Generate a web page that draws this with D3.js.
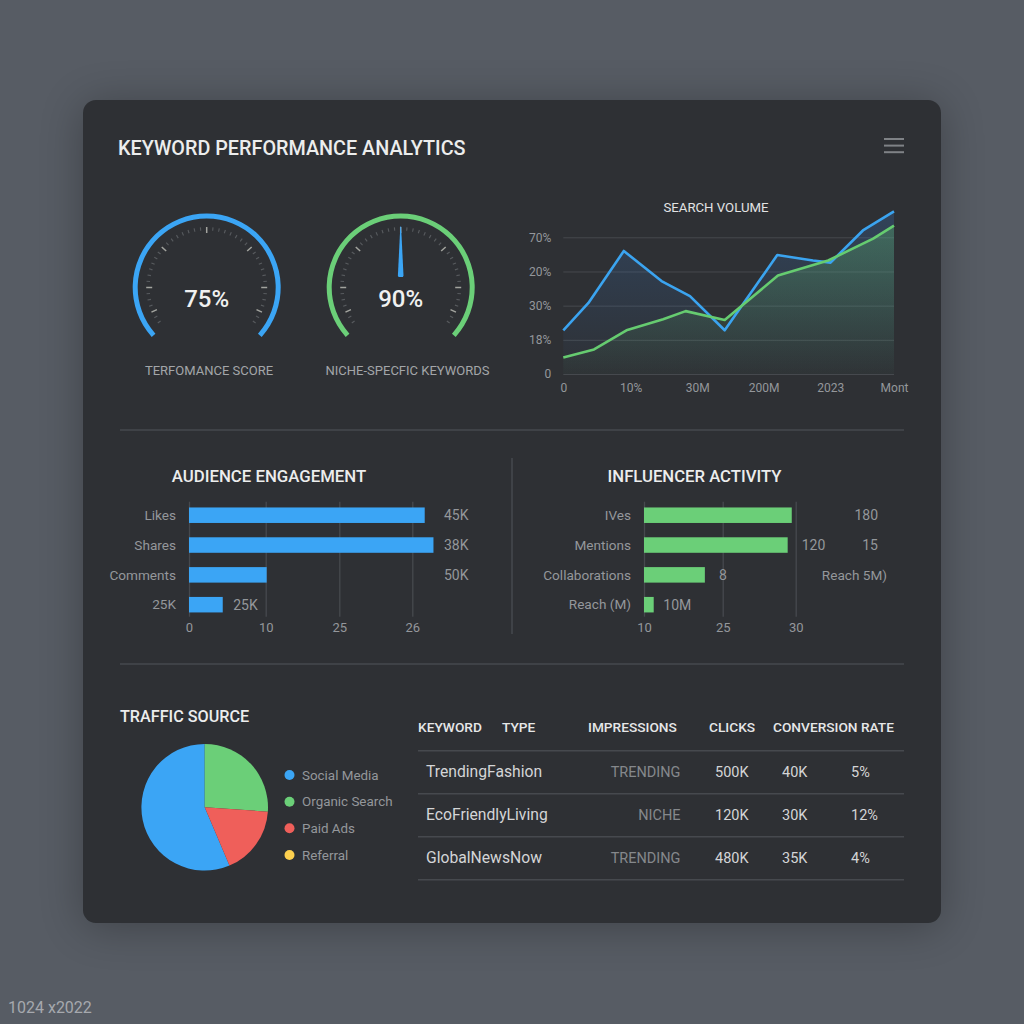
<!DOCTYPE html>
<html>
<head>
<meta charset="utf-8">
<style>
  html, body { margin: 0; background: #575c64; }
  svg { display: block; font-family: Roboto, sans-serif; }
  .axis .domain { display: none; }
</style>
<script src="https://cdn.jsdelivr.net/npm/d3@7"></script>
</head>
<body>
<svg id="chart" width="1024" height="1024"></svg>
<script>
// Gauges
const gaugeLabels = ["TERFOMANCE SCORE", "NICHE-SPECFIC KEYWORDS"]
const gaugeValues = ["75%", "90%"]

// Search volume (x and y are in plot units, the tick labels are as printed)
const volumeXTicks = [0, 20.4, 40.5, 60.6, 80.7, 100]
const volumeXLabels = ["0", "10%", "30M", "200M", "2023", "Mont"]
const volumeYTicks = [0, 25, 50, 75, 100]
const volumeYLabels = ["0", "18%", "30%", "20%", "70%"]
const blueX = [0, 7.6, 18.3, 29.7, 38.3, 48.8, 64.7, 75.5, 80.8, 90.6, 100]
const blueY = [32, 52, 90, 68, 57, 32, 87, 83, 81.5, 105, 119]
const greenX = [0, 9.3, 19.1, 30.2, 37, 48.8, 64.9, 80.1, 93.7, 100]
const greenY = [12, 18, 32, 40, 46, 39.5, 72, 83, 99, 108.5]

// Audience engagement
const audienceCategories = ["Likes", "Shares", "Comments", "25K"]
const audienceBars = [26.17, 26.29, 10.2, 4.4]
const audienceTicks = [0, 10, 25, 26]
const audienceValues = ["45K", "38K", "50K", "25K"]

// Influencer activity
const influencerCategories = ["IVes", "Mentions", "Collaborations", "Reach (M)"]
const influencerBars = [29.73, 29.45, 21.6, 11.85]
const influencerTicks = [10, 25, 30]

// Traffic source
const trafficSources = ["Social Media", "Organic Search", "Paid Ads", "Referral"]
const trafficShares = [56.4, 26.1, 17.5, 0]
const trafficColors = ["#3ba5f5", "#6bcf78", "#ef5f5a", "#fdd04f"]

// Keyword table
const tableHeaders = ["KEYWORD", "TYPE", "IMPRESSIONS", "CLICKS", "CONVERSION RATE"]
const tableKeywords = ["TrendingFashion", "EcoFriendlyLiving", "GlobalNewsNow"]
const tableTypes = ["TRENDING", "NICHE", "TRENDING"]
const tableImpressions = ["500K", "120K", "480K"]
const tableClicks = ["40K", "30K", "35K"]
const tableRates = ["5%", "12%", "4%"]

const BLUE = "#3ba5f5"
const GREEN = "#6bcf78"
const CARD = "#2e3034"
const GRID = "#46494e"
const MUTED = "#94979b"

const svg = d3.select("#chart")
const defs = svg.append("defs")

function addGradient(id, stops) {
  const g = defs.append("linearGradient").attr("id", id)
    .attr("x1", 0).attr("y1", 0).attr("x2", 0).attr("y2", 1)
  stops.forEach(s => g.append("stop").attr("offset", s[0]).attr("stop-color", s[1]).attr("stop-opacity", s[2]))
}
addGradient("blueFill", [[0, "#3b7fd0", 0.24], [1, "#3b7fd0", 0.01]])
addGradient("greenFill", [[0, "#63c56e", 0.3], [1, "#63c56e", 0.02]])

defs.append("filter").attr("id", "soft").attr("x", "-20%").attr("y", "-20%")
  .attr("width", "140%").attr("height", "140%")
  .append("feGaussianBlur").attr("stdDeviation", 22)

function addText(parent, x, y, str, size, color, weight, anchor) {
  return parent.append("text")
    .attr("x", x).attr("y", y).attr("dy", "0.35em")
    .attr("font-size", size).attr("fill", color)
    .attr("font-weight", weight || 400)
    .attr("text-anchor", anchor || "start")
    .text(str)
}

function addRule(x1, y1, x2, y2) {
  svg.append("line").attr("x1", x1).attr("y1", y1).attr("x2", x2).attr("y2", y2)
    .attr("stroke", GRID).attr("stroke-width", 1.5)
}

// Page and card
svg.append("rect").attr("width", 1024).attr("height", 1024).attr("fill", "#575c64")
svg.append("rect").attr("x", 83).attr("y", 104).attr("width", 858).attr("height", 823).attr("rx", 14)
  .attr("fill", "#000").attr("opacity", 0.28).attr("filter", "url(#soft)")
svg.append("rect").attr("x", 83).attr("y", 100).attr("width", 858).attr("height", 823).attr("rx", 13)
  .attr("fill", CARD)

addText(svg, 118, 148, "KEYWORD PERFORMANCE ANALYTICS", 19.8, "#eceded", 500)
addText(svg, 8, 1007, "1024 x2022", 16, "#a6a9ae")

d3.range(3).forEach(i => {
  svg.append("rect").attr("x", 884).attr("y", 138 + i * 6.6).attr("width", 20).attr("height", 2).attr("fill", "#7f8286")
})

addRule(120, 430, 904, 430)
addRule(120, 664, 904, 664)
addRule(512, 458, 512, 634)

// Gauges
const gaugeAngle = d3.scaleLinear().domain([-1, 1]).range([-132, 132])
const toRad = d => d * Math.PI / 180

function drawGauge(cx, color, value, label, labelX, needle) {
  const g = svg.append("g").attr("transform", `translate(${cx},287.5)`)
  g.append("path")
    .attr("d", d3.arc()({
      innerRadius: 69, outerRadius: 74,
      startAngle: toRad(gaugeAngle(-1)), endAngle: toRad(gaugeAngle(1))
    }))
    .attr("fill", color)

  d3.range(-126, 127, 6).forEach(a => {
    const major = [0, 48, 90, 114].includes(Math.abs(a))
    const r0 = major ? 54.5 : 57
    const r1 = 60.5
    g.append("line")
      .attr("x1", r0 * Math.sin(toRad(a))).attr("y1", -r0 * Math.cos(toRad(a)))
      .attr("x2", r1 * Math.sin(toRad(a))).attr("y2", -r1 * Math.cos(toRad(a)))
      .attr("stroke", major ? "#a3a49f" : "#585b5f")
      .attr("stroke-width", major ? 1.5 : 1.1)
  })

  if (needle) {
    g.append("path").attr("d", d3.line()([[-0.4, -61], [0.4, -61], [2.8, -12], [2.2, -10.5], [-2.2, -10.5], [-2.8, -12]]))
      .attr("fill", BLUE)
  }

  addText(g, 0, 10.7, value, 24, "#f0f0f0", 500, "middle")
  addText(svg, labelX, 370, label, 13, "#a3a6a9", 400, "middle")
}
drawGauge(206.7, BLUE, gaugeValues[0], gaugeLabels[0], 209, false)
drawGauge(400.7, GREEN, gaugeValues[1], gaugeLabels[1], 407.5, true)

// Search volume chart
addText(svg, 716, 207, "SEARCH VOLUME", 13.2, "#e2e3e4", 400, "middle")

const volX = d3.scaleLinear().domain([0, 100]).range([563.3, 894])
const volY = d3.scaleLinear().domain([0, 100]).range([374, 237.3])

const volYAxis = svg.append("g").attr("class", "axis").attr("transform", "translate(563.3,0)")
  .call(d3.axisLeft(volY).tickValues(volumeYTicks).tickSize(-330.7).tickPadding(12)
    .tickFormat((d, i) => volumeYLabels[i]))
volYAxis.selectAll("line").attr("stroke", GRID)
volYAxis.selectAll("text").attr("fill", MUTED).attr("font-size", 12).attr("font-family", "Roboto")

const volXAxis = svg.append("g").attr("class", "axis").attr("transform", "translate(0,374)")
  .call(d3.axisBottom(volX).tickValues(volumeXTicks).tickSize(0).tickPadding(9)
    .tickFormat((d, i) => volumeXLabels[i]))
volXAxis.selectAll("text").attr("fill", MUTED).attr("font-size", 12).attr("font-family", "Roboto")

function drawSeries(xs, ys, fill, stroke) {
  const pts = xs.map((x, i) => [x, ys[i]])
  const area = d3.area().x(d => volX(d[0])).y0(volY(0)).y1(d => volY(d[1]))
  const line = d3.line().x(d => volX(d[0])).y(d => volY(d[1]))
  svg.append("path").datum(pts).attr("d", area).attr("fill", fill)
  return () => svg.append("path").datum(pts).attr("d", line)
    .attr("fill", "none").attr("stroke", stroke).attr("stroke-width", 2.6).attr("stroke-linejoin", "round")
}
const drawBlueLine = drawSeries(blueX, blueY, "url(#blueFill)", "#3ba4f0")
const drawGreenLine = drawSeries(greenX, greenY, "url(#greenFill)", "#66cc70")
drawBlueLine()
drawGreenLine()

// Horizontal bar panels
function drawBars(categories, values, ticks, range, color, labelX) {
  const x = d3.scaleLinear().domain(ticks).range(range)
  const y = d3.scaleBand().domain(categories).range([500.3, 619.6]).paddingInner(0.48).paddingOuter(0.24)

  const axis = svg.append("g").attr("class", "axis").attr("transform", "translate(0,616.7)")
    .call(d3.axisBottom(x).tickValues(ticks).tickSize(-115).tickPadding(6).tickFormat(d3.format("d")))
  axis.selectAll("line").attr("stroke", GRID).attr("stroke-width", 1.3)
  axis.selectAll("text").attr("fill", MUTED).attr("font-size", 13).attr("font-family", "Roboto")

  svg.append("g").selectAll("rect").data(values).join("rect")
    .attr("x", x(ticks[0]))
    .attr("y", (d, i) => y(categories[i]))
    .attr("width", d => x(d) - x(ticks[0]))
    .attr("height", y.bandwidth())
    .attr("fill", color)

  categories.forEach(c => addText(svg, labelX, y(c) + y.bandwidth() / 2, c, 13.6, MUTED, 400, "end"))
  return { x, y }
}

addText(svg, 269, 476, "AUDIENCE ENGAGEMENT", 16.8, "#eceded", 500, "middle")
const aud = drawBars(audienceCategories, audienceBars, audienceTicks, [189, 265.7, 339.3, 412.3], BLUE, 176)
audienceValues.forEach((v, i) => {
  const yc = aud.y(audienceCategories[i]) + aud.y.bandwidth() / 2
  if (i < 3) addText(svg, 468.5, yc, v, 14, MUTED, 400, "end")
  else addText(svg, aud.x(audienceBars[i]) + 10.5, yc, v, 14, MUTED)
})

addText(svg, 694.5, 476, "INFLUENCER ACTIVITY", 16.7, "#eceded", 500, "middle")
const inf = drawBars(influencerCategories, influencerBars, influencerTicks, [644, 722.7, 795.7], GREEN, 631)
const rowMid = i => inf.y(influencerCategories[i]) + inf.y.bandwidth() / 2
addText(svg, 878, rowMid(0), "180", 14, MUTED, 400, "end")
addText(svg, 801.7, rowMid(1), "120", 14, MUTED)
addText(svg, 878, rowMid(1), "15", 14, MUTED, 400, "end")
addText(svg, 719, rowMid(2), "8", 14, MUTED)
addText(svg, 887, rowMid(2), "Reach 5M)", 13.6, MUTED, 400, "end")
addText(svg, 663.3, rowMid(3), "10M", 14, MUTED)

// Traffic source pie
addText(svg, 120, 716, "TRAFFIC SOURCE", 16.2, "#eceded", 500)

const pieStart = -toRad(trafficShares[0] * 3.6)
const pie = d3.pie().sort(null).startAngle(pieStart).endAngle(pieStart + 2 * Math.PI)
svg.append("g").attr("transform", "translate(204.7,807.3)")
  .selectAll("path").data(pie(trafficShares)).join("path")
  .attr("d", d3.arc().innerRadius(0).outerRadius(63.3))
  .attr("fill", (d, i) => trafficColors[i])

const legendY = d3.scalePoint().domain(trafficSources).range([775, 855])
trafficSources.forEach((s, i) => {
  svg.append("circle").attr("cx", 289.5).attr("cy", legendY(s)).attr("r", 5).attr("fill", trafficColors[i])
  addText(svg, 302, legendY(s), s, 13.4, MUTED)
})

// Keyword table
const headerX = [418, 502, 588, 709, 773]
tableHeaders.forEach((h, i) => addText(svg, headerX[i], 727.5, h, 13.7, "#e6e7e8", 500))

const rowY = d3.scaleLinear().domain([0, 3]).range([750.7, 879.7])
d3.range(4).forEach(i => addRule(418, rowY(i), 904, rowY(i)))
tableKeywords.forEach((k, i) => {
  const yc = rowY(i + 0.49)
  addText(svg, 426, yc, k, 15.7, "#d4d5d7")
  addText(svg, 680.5, yc, tableTypes[i], 14.5, "#85888c", 400, "end")
  addText(svg, 715, yc, tableImpressions[i], 14.5, "#d4d5d7")
  addText(svg, 782, yc, tableClicks[i], 14.5, "#d4d5d7")
  addText(svg, 851, yc, tableRates[i], 14.5, "#d4d5d7")
})
</script>
</body>
</html>
